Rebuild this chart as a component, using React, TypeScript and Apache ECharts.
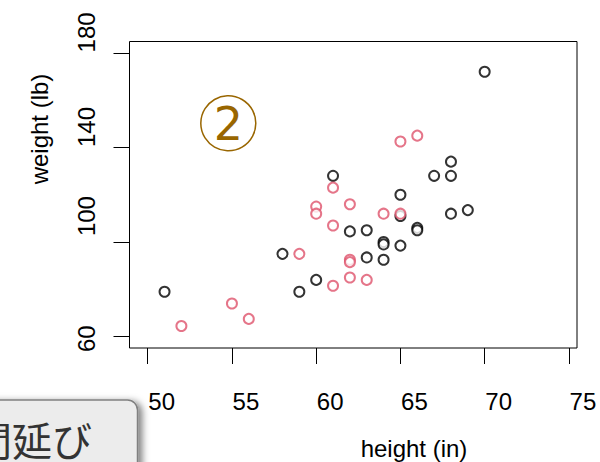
import React, { useEffect, useRef } from "react";
import * as echarts from "echarts";

// group 1 (black)
const maleHeight = [51, 58, 59, 60, 61, 62, 63, 63, 64, 64, 64, 65, 65, 65, 66, 66, 67, 68, 68, 68, 69, 70];
const maleWeight = [79, 95, 79, 84, 128, 104.5, 105, 93.5, 100, 99, 92.5, 120, 111, 98.5, 106, 105, 128, 134, 128, 112, 113.5, 172];
// group 2 (red)
const femaleHeight = [52, 55, 56, 59, 60, 60, 61, 61, 61, 62, 62, 62, 62, 63, 64, 65, 65, 66];
const femaleWeight = [64.5, 74, 67.5, 95, 115, 112, 123, 107, 81.5, 116, 92.5, 91.5, 85, 84, 112, 112, 142.5, 145];

const xTicks = [50, 55, 60, 65, 70, 75];
const yTicks = [60, 100, 140, 180];
const xTitle = "height (in)";
const yTitle = "weight (lb)";
const noteText = "間延び";
const badgeText = "2";

const FONT = "'Liberation Sans', Arial, sans-serif";

export default function App() {
  const ref = useRef<HTMLDivElement>(null);
  useEffect(() => {
    if (!ref.current) return;
    const chart = echarts.init(ref.current, null, { renderer: "svg" });
    const pairs = (xs: number[], ys: number[]) => xs.map((x, i) => [x, ys[i]]);
    const yStyle: Record<number, string> = { 60: "d", 100: "u2", 140: "u1", 180: "u1" };
    chart.setOption({
      animation: false,
      backgroundColor: "#ffffff",
      grid: {
        show: true,
        left: 129.5,
        top: 41.5,
        width: 447.5,
        height: 306.5,
        borderColor: "#000",
        borderWidth: 1,
        backgroundColor: "transparent",
      },
      xAxis: {
        type: "value",
        min: 48.92,
        max: 75.48,
        axisLine: { show: false },
        splitLine: { show: false },
        axisTick: { show: true, length: 16, customValues: xTicks, lineStyle: { color: "#000", width: 1 } },
        axisLabel: {
          customValues: xTicks,
          color: "#000",
          fontSize: 24,
          fontFamily: FONT,
          margin: 41,
          padding: [0, 0, 0, 28],
        },
      },
      yAxis: {
        type: "value",
        min: 55.2,
        max: 184.8,
        axisLine: { show: false },
        splitLine: { show: false },
        axisTick: { show: true, length: 16, customValues: yTicks, lineStyle: { color: "#000", width: 1 } },
        axisLabel: {
          customValues: yTicks,
          rotate: 90,
          color: "#000",
          fontSize: 24,
          fontFamily: FONT,
          margin: 31,
          formatter: (v: number) => `{${yStyle[v] || "u1"}|${v}}`,
          rich: {
            u1: { fontSize: 24, fontFamily: FONT, color: "#000", padding: [0, 0, 0, 41] },
            u2: { fontSize: 24, fontFamily: FONT, color: "#000", padding: [0, 0, 0, 52] },
            d: { fontSize: 24, fontFamily: FONT, color: "#000", padding: [0, 4, 0, 0] },
          },
        },
      },
      series: [
        {
          type: "scatter",
          data: pairs(maleHeight, maleWeight),
          symbol: "emptyCircle",
          symbolSize: 10,
          itemStyle: { color: "#000000", borderColor: "#000000", borderWidth: 1.7 },
        },
        {
          type: "scatter",
          data: pairs(femaleHeight, femaleWeight),
          symbol: "emptyCircle",
          symbolSize: 10,
          itemStyle: { color: "#DF536B", borderColor: "#DF536B", borderWidth: 1.7 },
        },
      ],
      graphic: [
        {
          type: "text",
          x: 414,
          y: 448,
          style: { text: xTitle, fontSize: 24, fontFamily: FONT, fill: "#000", align: "center", verticalAlign: "middle" },
        },
        {
          type: "text",
          x: 39,
          y: 129,
          rotation: Math.PI / 2,
          style: { text: yTitle, fontSize: 24, fontFamily: FONT, fill: "#000", align: "center", verticalAlign: "middle" },
        },
        {
          type: "circle",
          shape: { cx: 228.3, cy: 123.3, r: 27.5 },
          style: { fill: "none", stroke: "#996600", lineWidth: 1.5 },
        },
        {
          type: "text",
          x: 228.5,
          y: 124,
          style: { text: badgeText, fontSize: 46, fontFamily: "'DejaVu Sans', sans-serif", fill: "#996600", align: "center", verticalAlign: "middle" },
        },
        {
          type: "rect",
          shape: { x: -20, y: 400, width: 157.5, height: 90, r: 10 },
          style: {
            fill: "#ececec",
            stroke: "#808080",
            lineWidth: 1.5,
            shadowBlur: 7,
            shadowOffsetX: 4,
            shadowOffsetY: 2,
            shadowColor: "rgba(0,0,0,0.5)",
          },
        },
        {
          type: "text",
          x: -28,
          y: 439,
          style: { text: noteText, fontSize: 40, fontFamily: "'Noto Sans CJK JP', sans-serif", fill: "#333333", align: "left", verticalAlign: "middle" },
        },
      ],
    });
    return () => chart.dispose();
  }, []);
  return <div ref={ref} style={{ position: "fixed", left: 0, top: 0, width: 600, height: 462 }} />;
}
